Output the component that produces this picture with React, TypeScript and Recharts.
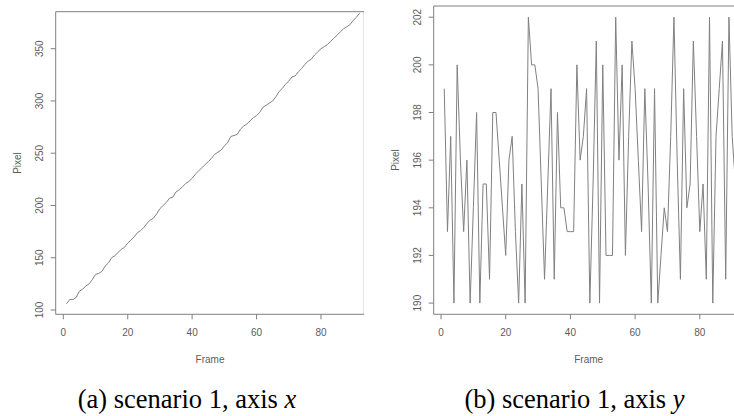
import { LineChart, Line, XAxis, YAxis, ReferenceArea } from 'recharts';

// frame ticks shared by both panels
const frameTicks = [0, 20, 40, 60, 80];
const pixelTicksA = [100, 150, 200, 250, 300, 350];
const pixelTicksB = [190, 192, 194, 196, 198, 200, 202];

// scenario 1, axis x (frames 1..93)
const pixelA = [
  106, 110, 110, 112, 118, 120, 123, 125, 129, 134,
  135, 137, 142, 145, 150, 152, 155, 158, 160, 164,
  167, 170, 174, 176, 179, 183, 186, 188, 192, 197,
  200, 203, 207, 208, 213, 215, 218, 221, 223, 226,
  230, 233, 236, 239, 242, 245, 249, 251, 253, 257,
  260, 266, 267, 268, 273, 276, 278, 281, 284, 286,
  289, 294, 296, 298, 300, 304, 309, 312, 316, 319,
  323, 324, 328, 331, 335, 338, 340, 344, 347, 350,
  352, 354, 357, 360, 363, 366, 369, 371, 373, 377,
  380, 384,
];

// scenario 1, axis y (frames 1..91)
const pixelB = [
  199, 193, 197, 190, 200, 196, 193, 196, 190, 194,
  198, 190, 195, 195, 191, 198, 198, 196, 194, 192,
  196, 197, 193, 190, 195, 190, 202, 200, 200, 199,
  195, 191, 195, 199, 191, 198, 194, 194, 193, 193,
  193, 200, 196, 197, 199, 190, 195, 201, 190, 200,
  192, 192, 192, 202, 196, 200, 192, 197, 201, 199,
  196, 193, 199, 195, 190, 199, 190, 192, 194, 193,
  197, 202, 196, 191, 199, 194, 195, 201, 197, 193,
  195, 191, 202, 190, 197, 199, 201, 191, 202, 197,
  195,
];

const dataA = pixelA.map((v, i) => ({ frame: i + 1, pixel: v }));
const dataB = pixelB.map((v, i) => ({ frame: i + 1, pixel: v }));

const sans = '"Liberation Sans", Arial, sans-serif';
const serif = '"Liberation Serif", "Times New Roman", serif';
const tickGrey = '#5c5c5c';
const lineGrey = '#808080';
const boxGrey = '#808080';

function XTick(props: any) {
  const { x, y, payload } = props;
  return (
    <text x={x} y={y + 15} textAnchor="middle" fontSize={10} fill={tickGrey} fontFamily={sans}>
      {payload.value}
    </text>
  );
}

function YTick(props: any) {
  const { x, y, payload } = props;
  return (
    <text x={x} y={y} transform={`rotate(-90 ${x} ${y})`} textAnchor="middle" fontSize={10} fill={tickGrey} fontFamily={sans}>
      {payload.value}
    </text>
  );
}

function Panel({ data, width, yWidth, top, xDomain, yDomain, yTicks }: any) {
  return (
    <LineChart width={width} height={416} data={data} margin={{ top, right: 0, bottom: 0, left: 0 }}>
      <XAxis
        dataKey="frame"
        type="number"
        domain={xDomain}
        allowDataOverflow
        ticks={frameTicks}
        height={101.7}
        axisLine={false}
        tickLine={{ stroke: boxGrey }}
        tickSize={5}
        tickMargin={2}
        tick={<XTick />}
        interval={0}
      />
      <YAxis
        type="number"
        domain={yDomain}
        allowDataOverflow
        ticks={yTicks}
        width={yWidth}
        axisLine={false}
        tickLine={{ stroke: boxGrey }}
        tickSize={5}
        tickMargin={8}
        tick={<YTick />}
        interval={0}
      />
      <ReferenceArea x1={xDomain[0]} x2={xDomain[1]} y1={yDomain[0]} y2={yDomain[1]} fill="none" stroke={boxGrey} strokeWidth={1} />
      <Line type="linear" dataKey="pixel" stroke={lineGrey} strokeWidth={1} dot={false} isAnimationActive={false} />
    </LineChart>
  );
}

export default function App() {
  return (
    <div style={{ position: 'absolute', left: 0, top: 0, width: 734, height: 416, background: '#fff', overflow: 'hidden' }}>
      <div style={{ position: 'absolute', left: 0, top: 0 }}>
        <Panel
          data={dataA}
          width={364.3}
          yWidth={55.7}
          top={11.7}
          xDomain={[-2.36, 93.45]}
          yDomain={[95.9, 385.4]}
          yTicks={pixelTicksA}
        />
      </div>
      <div style={{ position: 'absolute', left: 367, top: 0, width: 367, height: 416, overflow: 'hidden' }}>
        <Panel
          data={dataB}
          width={393}
          yWidth={66.7}
          top={6}
          xDomain={[-2.26, 98.6]}
          yDomain={[189.53, 202.47]}
          yTicks={pixelTicksB}
        />
      </div>
      <svg width={734} height={416} style={{ position: 'absolute', left: 0, top: 0, pointerEvents: 'none' }}>
        <text x={20.5} y={163} transform="rotate(-90 20.5 163)" textAnchor="middle" fontSize={10} fill={tickGrey} fontFamily={sans}>Pixel</text>
        <text x={398.5} y={160} transform="rotate(-90 398.5 160)" textAnchor="middle" fontSize={10} fill={tickGrey} fontFamily={sans}>Pixel</text>
        <text x={210} y={363} textAnchor="middle" fontSize={10} fill={tickGrey} fontFamily={sans}>Frame</text>
        <text x={588.7} y={363} textAnchor="middle" fontSize={10} fill={tickGrey} fontFamily={sans}>Frame</text>
        <text x={187} y={408} textAnchor="middle" fontSize={26.5} fill="#000" fontFamily={serif}>
          (a) scenario 1, axis <tspan fontStyle="italic">x</tspan>
        </text>
        <text x={574.5} y={408} textAnchor="middle" fontSize={26.5} fill="#000" fontFamily={serif}>
          (b) scenario 1, axis <tspan fontStyle="italic">y</tspan>
        </text>
      </svg>
    </div>
  );
}
